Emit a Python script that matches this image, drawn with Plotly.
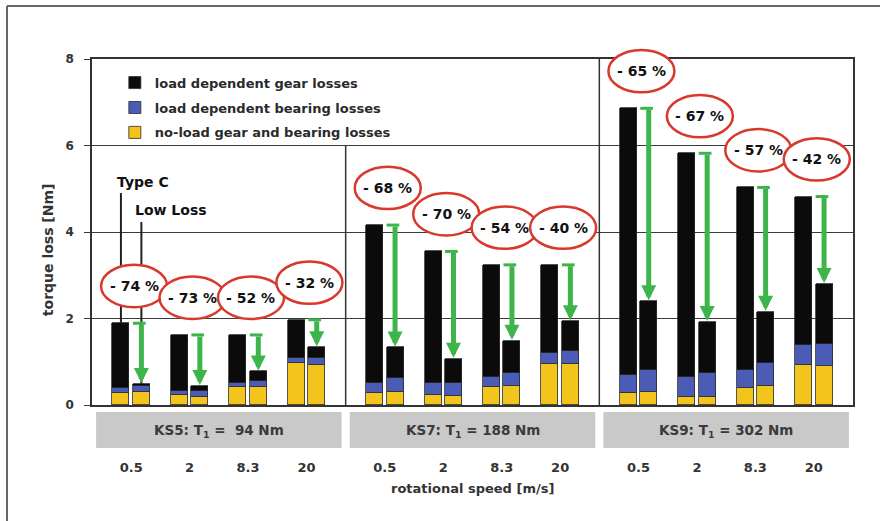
import plotly.graph_objects as go

# ---- data -------------------------------------------------------------
speeds = ["0.5", "2", "8.3", "20"]
stands = ["KS5: T<sub>1</sub> =  94 Nm", "KS7: T<sub>1</sub> = 188 Nm",
          "KS9: T<sub>1</sub> = 302 Nm"]

# torque loss components [Nm], ordered KS5 (4 speeds), KS7, KS9
tc_noload = [0.27, 0.22, 0.42, 0.96, 0.27, 0.23, 0.41, 0.94, 0.27, 0.19, 0.40, 0.92]
tc_bearing = [0.12, 0.10, 0.10, 0.12, 0.25, 0.27, 0.24, 0.27, 0.42, 0.46, 0.42, 0.47]
tc_gear = [1.50, 1.30, 1.10, 0.89, 3.64, 3.05, 2.59, 2.03, 6.17, 5.17, 4.21, 3.43]

ll_noload = [0.31, 0.19, 0.42, 0.93, 0.31, 0.21, 0.43, 0.94, 0.31, 0.18, 0.43, 0.91]
ll_bearing = [0.14, 0.14, 0.14, 0.15, 0.32, 0.29, 0.32, 0.30, 0.50, 0.55, 0.53, 0.51]
ll_gear = [0.04, 0.11, 0.22, 0.26, 0.70, 0.57, 0.74, 0.70, 1.59, 1.19, 1.20, 1.38]

reduction = [74, 73, 52, 32, 68, 70, 54, 40, 65, 67, 57, 42]

# ---- layout constants -------------------------------------------------
GROUP_STEP = 4.34
PAIR_OFF = 0.175
BAR_W = 0.29
X_RANGE = [-0.67, 3 * GROUP_STEP - 0.67]
Y_RANGE = [0, 8]
FONT = "DejaVu Sans, Verdana, sans-serif"

BLACK = "#0b0b0b"
BLUE = "#4a5cb6"
YELLOW = "#f3c51c"
GREEN = "#3db54a"
RED = "#d8392c"

pair_x = [g * GROUP_STEP + i for g in range(3) for i in range(4)]
x_tc = [p - PAIR_OFF for p in pair_x]
x_ll = [p + PAIR_OFF for p in pair_x]
tc_tot = [a + b + c for a, b, c in zip(tc_noload, tc_bearing, tc_gear)]
ll_tot = [a + b + c for a, b, c in zip(ll_noload, ll_bearing, ll_gear)]
group_c = [1.5 + g * GROUP_STEP for g in range(3)]


def px(v):
    return (v - X_RANGE[0]) / (X_RANGE[1] - X_RANGE[0])


def py(v):
    return (v - Y_RANGE[0]) / (Y_RANGE[1] - Y_RANGE[0])


fig = go.Figure()
components = [
    ("no-load gear and bearing losses", tc_noload, ll_noload, YELLOW, 3),
    ("load dependent bearing losses", tc_bearing, ll_bearing, BLUE, 2),
    ("load dependent gear losses", tc_gear, ll_gear, BLACK, 1),
]
for name, tcv, llv, col, rank in components:
    fig.add_trace(go.Bar(
        name=name, legendgroup=name, legendrank=rank,
        x=x_tc + x_ll, y=tcv + llv, width=BAR_W,
        marker=dict(color=col, line=dict(color="#2a2a2a", width=0.8)),
    ))

shapes = []
annotations = []

# group separators
shapes.append(dict(type="line", xref="x", yref="y", x0=group_c[0] + GROUP_STEP / 2,
                   x1=group_c[0] + GROUP_STEP / 2, y0=0, y1=6,
                   line=dict(color="#333", width=1.5)))
shapes.append(dict(type="line", xref="x", yref="y", x0=group_c[1] + GROUP_STEP / 2,
                   x1=group_c[1] + GROUP_STEP / 2, y0=0, y1=8,
                   line=dict(color="#333", width=1.5)))

# pointer lines for the two gear types
shapes.append(dict(type="line", xref="x", yref="y", x0=x_tc[0], x1=x_tc[0],
                   y0=tc_tot[0], y1=4.9, line=dict(color="#222", width=2)))
shapes.append(dict(type="line", xref="x", yref="y", x0=x_ll[0], x1=x_ll[0],
                   y0=ll_tot[0], y1=4.23, line=dict(color="#222", width=2)))
annotations.append(dict(x=x_tc[0] - 0.11, y=5.16, xref="x", yref="y", text="<b>Type C</b>",
                        showarrow=False, xanchor="left",
                        font=dict(family=FONT, size=14, color="#111")))
annotations.append(dict(x=x_ll[0] - 0.15, y=4.5, xref="x", yref="y", text="<b>Low Loss</b>",
                        showarrow=False, xanchor="left",
                        font=dict(family=FONT, size=14, color="#111")))

# reduction arrows with a short cap at the Type C level
for xl, t1, t2 in zip(x_ll, tc_tot, ll_tot):
    shapes.append(dict(type="line", xref="x", yref="y", x0=xl - BAR_W / 2, x1=xl + BAR_W / 4,
                       y0=t1, y1=t1, line=dict(color=GREEN, width=3)))
    annotations.append(dict(x=xl, y=t2 + 0.02, ax=xl, ay=t1, xref="x", yref="y",
                            axref="x", ayref="y", text="", showarrow=True,
                            arrowhead=2, arrowsize=0.6, arrowwidth=5,
                            arrowcolor=GREEN, standoff=0))

# reduction labels in ellipses
for p, t, r in zip(pair_x, tc_tot, reduction):
    cx, cy = p + 0.05, t + 0.86
    shapes.append(dict(type="circle", xref="paper", yref="paper",
                       x0=px(cx - 0.565), x1=px(cx + 0.565),
                       y0=py(cy - 0.49), y1=py(cy + 0.49),
                       fillcolor="white", line=dict(color=RED, width=2.5), layer="above"))
    annotations.append(dict(x=cx, y=cy, xref="x", yref="y", text=f"<b>- {r} %</b>",
                            showarrow=False, font=dict(family=FONT, size=14, color="#111")))

# stand labels below the axis
for gc, s in zip(group_c, stands):
    shapes.append(dict(type="rect", xref="x", yref="paper",
                       x0=gc - 2.1, x1=gc + 2.1, y0=-0.124, y1=-0.02,
                       fillcolor="#c9c9c9", line=dict(width=0), layer="below"))
    annotations.append(dict(x=gc, y=-0.074, xref="x", yref="paper", text=f"<b>{s}</b>",
                            showarrow=False, yanchor="middle",
                            font=dict(family=FONT, size=13.5, color="#3a3a3a")))

# y axis title, set a little below the plot centre
annotations.append(dict(x=-0.058, y=0.45, xref="paper", yref="paper",
                        text="<b>torque loss [Nm]</b>", textangle=-90, showarrow=False,
                        xanchor="center", yanchor="middle",
                        font=dict(family=FONT, size=14, color="#333")))

# x axis title
annotations.append(dict(x=0.5, y=-0.24, xref="paper", yref="paper",
                        text="<b>rotational speed [m/s]</b>", showarrow=False,
                        xanchor="center", yanchor="middle",
                        font=dict(family=FONT, size=13, color="#333")))

# outer frame
shapes.append(dict(type="line", xref="paper", yref="paper", x0=-0.1117, x1=1.04,
                   y0=1.153, y1=1.153, line=dict(color="#666", width=2)))
shapes.append(dict(type="line", xref="paper", yref="paper", x0=-0.1117, x1=-0.1117,
                   y0=1.153, y1=-0.34, line=dict(color="#666", width=2)))

fig.update_layout(
    width=880, height=521,
    margin=dict(l=92, r=27, t=59, b=116),
    paper_bgcolor="white", plot_bgcolor="white",
    barmode="stack", bargap=0,
    font=dict(family=FONT, color="#222"),
    shapes=shapes, annotations=annotations,
    legend=dict(x=0.03, y=0.975, xanchor="left", yanchor="top",
                traceorder="grouped", tracegroupgap=5,
                bgcolor="rgba(0,0,0,0)",
                font=dict(family=FONT, size=13, color="#2a2a2a", weight="bold")),
    xaxis=dict(range=X_RANGE, tickvals=pair_x, ticktext=speeds * 3,
               showgrid=False, zeroline=False, showline=True, mirror=True,
               linecolor="#333", linewidth=1.5, ticks="",
               ticklabelstandoff=50,
               tickfont=dict(family=FONT, size=13, color="#333", weight="bold")),
    yaxis=dict(range=Y_RANGE, dtick=2, showgrid=True, gridcolor="#3a3a3a", gridwidth=1.3,
               zeroline=False, showline=True, mirror=True, linecolor="#333", linewidth=1.5,
               ticks="outside", ticklen=6, tickcolor="#3a3a3a", tickwidth=1.3,
               ticklabelstandoff=8,
               tickfont=dict(family=FONT, size=12, color="#333", weight="bold")),
)

fig.write_html("out.html")
